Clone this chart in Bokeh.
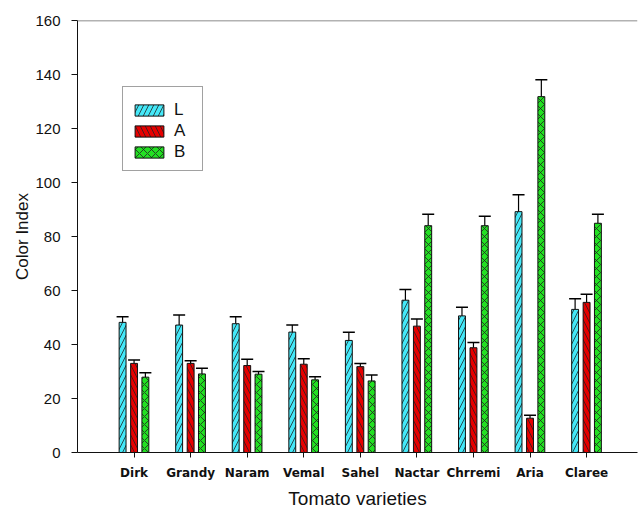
from bokeh.plotting import figure
from bokeh.models import (ColumnDataSource, Range1d, FixedTicker, Legend, LegendItem,
                          Whisker, TeeHead, Span)
from bokeh.transform import dodge
from bokeh.embed import file_html
from bokeh.resources import INLINE

varieties = ["Dirk", "Grandy", "Naram", "Vemal", "Sahel", "Nactar", "Chrremi", "Aria", "Claree"]
L_vals = [48.2, 47.2, 47.7, 44.6, 41.5, 56.4, 50.6, 89.2, 53.0]
A_vals = [33.0, 33.0, 32.2, 32.7, 31.8, 46.8, 38.8, 12.7, 55.6]
B_vals = [27.9, 29.1, 29.0, 26.9, 26.5, 84.0, 84.0, 131.8, 84.9]
L_err = [2.1, 3.7, 2.6, 2.6, 3.0, 4.0, 3.2, 6.3, 3.9]
A_err = [1.3, 1.0, 2.3, 2.0, 1.2, 2.6, 1.9, 1.1, 3.0]
B_err = [1.6, 2.1, 1.0, 1.2, 2.2, 4.2, 3.5, 6.3, 3.3]
y_ticks = [0, 20, 40, 60, 80, 100, 120, 140, 160]

pos = list(range(1, len(varieties) + 1))
src = ColumnDataSource(dict(
    pos=pos,
    L=L_vals, A=A_vals, B=B_vals,
    L_hi=[v + e for v, e in zip(L_vals, L_err)],
    A_hi=[v + e for v, e in zip(A_vals, A_err)],
    B_hi=[v + e for v, e in zip(B_vals, B_err)],
))

p = figure(width=640, height=511, output_backend="svg", toolbar_location=None,
           x_range=Range1d(0, 9.9), y_range=Range1d(0, 160),
           min_border_left=77, min_border_right=3, min_border_top=20, min_border_bottom=58)
p.outline_line_color = None
p.grid.visible = False
p.background_fill_color = "white"
p.border_fill_color = "white"

series = [
    ("L", "L_hi", -0.203, "#44E8F8", "/", 10),
    ("A", "A_hi", 0.0, "#E60000", "\\", 10),
    ("B", "B_hi", 0.2, "#22E022", "x", 8),
]
items = []
for name, hi, off, col, hatch, hs in series:
    r = p.vbar(x=dodge("pos", off, range=p.x_range), top=name, width=0.122, source=src,
               fill_color=col, line_color="#111111", line_width=1,
               hatch_pattern=hatch, hatch_color="#222222", hatch_scale=hs,
               hatch_weight=1, hatch_alpha=0.8)
    w = Whisker(base=dodge("pos", off, range=p.x_range), lower=name, upper=hi, source=src,
                line_color="black", line_width=1.2,
                upper_head=TeeHead(size=12, line_color="black", line_width=1.5),
                lower_head=None)
    p.add_layout(w)
    items.append(LegendItem(label=name, renderers=[r]))

legend = Legend(items=items, location=(45, 281))
legend.title = " "
legend.title_text_font_size = "2px"
legend.title_standoff = 3
legend.label_text_font = "Liberation Sans"
legend.label_text_font_size = "17px"
legend.label_text_color = "#111111"
legend.glyph_width = 36
legend.glyph_height = 14
legend.label_height = 14
legend.spacing = 1
legend.padding = 8
legend.margin = 0
legend.label_standoff = 7
legend.border_line_color = "#444444"
legend.border_line_width = 1
legend.background_fill_color = "white"
p.add_layout(legend)

top_line = Span(location=160, dimension="width", line_color="#666666", line_width=1.3)
p.add_layout(top_line)

# x axis
xa = p.xaxis[0]
xa.ticker = FixedTicker(ticks=pos)
xa.major_label_overrides = {i: n for i, n in zip(pos, varieties)}
xa.major_label_text_font = "DejaVu Sans"
xa.major_label_text_font_style = "bold"
xa.major_label_text_font_size = "12px"
xa.major_label_text_color = "#111111"
xa.major_label_standoff = 8
xa.major_tick_out = 5
xa.major_tick_in = 0
xa.minor_tick_line_color = None
xa.axis_line_color = "#111111"
xa.major_tick_line_color = "#111111"
xa.axis_label = "Tomato varieties"
xa.axis_label_text_font = "Liberation Sans"
xa.axis_label_text_font_style = "normal"
xa.axis_label_text_font_size = "19px"
xa.axis_label_text_color = "#111111"
xa.axis_label_standoff = 5

# y axis
ya = p.yaxis[0]
ya.ticker = FixedTicker(ticks=y_ticks)
ya.major_label_text_font = "Liberation Sans"
ya.major_label_text_font_size = "15px"
ya.major_label_text_color = "#111111"
ya.major_label_standoff = 11
ya.major_tick_out = 6
ya.major_tick_in = 0
ya.minor_tick_line_color = None
ya.axis_line_color = "#111111"
ya.major_tick_line_color = "#111111"
ya.axis_label = "Color Index"
ya.axis_label_text_font = "Liberation Sans"
ya.axis_label_text_font_style = "normal"
ya.axis_label_text_font_size = "17px"
ya.axis_label_text_color = "#111111"
ya.axis_label_standoff = 0

open("out.html", "w").write(file_html(p, INLINE))
